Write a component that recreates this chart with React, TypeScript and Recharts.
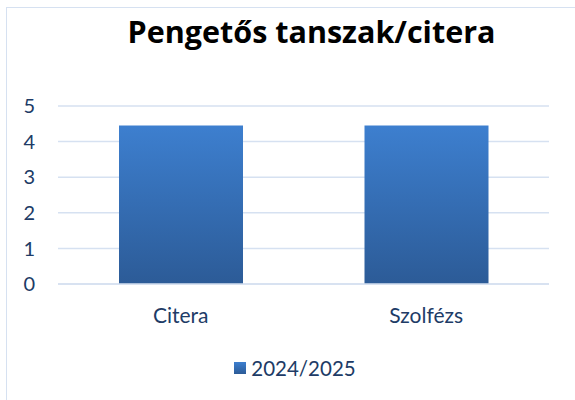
import { Bar, BarChart, CartesianGrid, Legend, XAxis, YAxis } from 'recharts'

const categories = ['Citera', 'Szolfézs']
const values2024 = [4.45, 4.45]
const yTicks = [0, 1, 2, 3, 4, 5]
const seriesName = '2024/2025'

const TEXT = '#203b66'
const GRID = '#d6e1f1'
const FONT = 'Lato, "Open Sans", sans-serif'

const data = categories.map((c, i) => ({ name: c, v: values2024[i] }))

function LegendBox() {
  return (
    <div
      style={{
        display: 'flex',
        alignItems: 'center',
        justifyContent: 'center',
        fontFamily: FONT,
        fontSize: 20.5,
        color: TEXT,
      }}
    >
      <span
        style={{
          width: 12,
          height: 12,
          marginRight: 5,
          background: 'linear-gradient(#3d7fcf, #2c5b97)',
          display: 'inline-block',
        }}
      />
      {seriesName}
    </div>
  )
}

export default function App() {
  return (
    <div style={{ position: 'fixed', left: 0, top: 0, width: 575, height: 400, background: '#fff', overflow: 'hidden' }}>
      <div
        style={{
          position: 'absolute',
          left: 6,
          top: 7,
          width: 600,
          height: 420,
          borderLeft: `1.5px solid ${GRID}`,
          borderTop: `1.5px solid ${GRID}`,
        }}
      />
      <div
        style={{
          position: 'absolute',
          left: 0,
          top: 10,
          width: 623,
          textAlign: 'center',
          fontFamily: '"Open Sans", Lato, sans-serif',
          fontWeight: 700,
          fontSize: 30.5,
          color: '#000',
        }}
      >
        Pengetős tanszak/citera
      </div>
      <div style={{ position: 'absolute', left: 0, top: 0 }}>
        <BarChart width={575} height={400} data={data} margin={{ top: 106, right: 26, left: 8, bottom: 76 }}>
          <defs>
            <linearGradient id="barFill" x1="0" y1="0" x2="0" y2="1">
              <stop offset="0%" stopColor="#3d7fcf" />
              <stop offset="100%" stopColor="#2c5b97" />
            </linearGradient>
          </defs>
          <CartesianGrid vertical={false} stroke={GRID} strokeWidth={1.5} />
          <XAxis
            dataKey="name"
            height={40}
            axisLine={{ stroke: GRID, strokeWidth: 1.5 }}
            tickLine={false}
            tickSize={0}
            tickMargin={24}
            tick={{ fill: TEXT, fontSize: 21, fontFamily: FONT }}
          />
          <YAxis
            domain={[0, 5]}
            ticks={yTicks}
            width={50}
            axisLine={false}
            tickLine={false}
            tickSize={0}
            tickMargin={23}
            tick={{ fill: TEXT, fontSize: 20, fontFamily: FONT }}
          />
          <Legend
            verticalAlign="middle"
            align="center"
            wrapperStyle={{ top: 356, left: 0, width: 590 }}
            content={() => <LegendBox />}
          />
          <Bar dataKey="v" name={seriesName} barSize={124} fill="url(#barFill)" isAnimationActive={false} />
        </BarChart>
      </div>
    </div>
  )
}
